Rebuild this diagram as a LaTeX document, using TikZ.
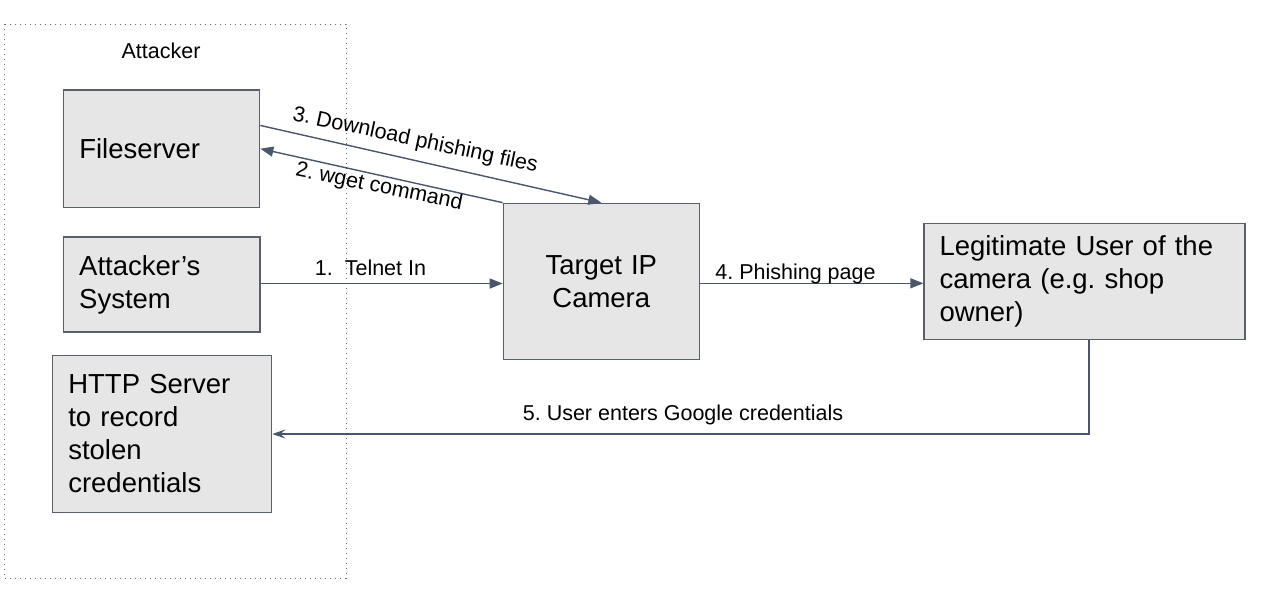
\documentclass[tikz,border=0pt]{standalone}
\usepackage{fontspec}
\setmainfont{Liberation Sans}
\usetikzlibrary{arrows.meta,calc}
\definecolor{boxfill}{RGB}{230,230,230}
\definecolor{boxline}{RGB}{90,96,106}
\definecolor{arrowc}{RGB}{73,86,107}
\definecolor{framec}{RGB}{110,110,110}
\frenchspacing
\begin{document}
\frenchspacing
\begin{tikzpicture}[x=1pt,y=-1pt,
  box/.style={draw=boxline, line width=1.3pt, fill=boxfill, rectangle,
    inner ysep=0pt, inner xsep=16pt, align=left,
    font=\fontsize{27.5}{33}\selectfont},
  cbox/.style={box, align=center},
  lbl/.style={font=\fontsize{21.5}{25}\selectfont, inner sep=0pt},
  arr/.style={draw=arrowc, line width=1.4pt, -{Triangle[length=13pt,width=10pt]}},
  arrb/.style={draw=arrowc, line width=1.4pt, -{Stealth[length=13pt,width=9pt,inset=5pt]}},
  framebox/.style={draw=framec, line width=1pt, dash pattern=on 1.2pt off 3.8pt}
]
\useasboundingbox (0,0) rectangle (1263,590);
\fill[white] (0,0) rectangle (1263,590);

\draw[framebox] (4,24) rectangle (346,578);
\node[lbl, anchor=base] (attlbl) at (161,58.3) {Attacker};

\node[box, text width=164.4pt, minimum height=117.3pt] (fs) at (161.5,148.7) {Fileserver};
\node[box, text width=164.8pt, minimum height=95pt] (as) at (161.6,284.5) {Attacker’s\\System};
\node[box, text width=187.4pt, minimum height=156.6pt] (http) at (162,434) {HTTP Server\\to record\\stolen\\credentials};
\node[cbox, text width=164pt, minimum height=156pt] (cam) at (601.3,281.3) {Target IP\\Camera};
\node[box, inner xsep=15.5pt, text width=290pt, minimum height=116pt] (leg) at (1084.5,281.3) {Legitimate User of the\\camera (e.g. shop\\owner)};

\coordinate (fsA) at ($(fs.north east)!0.304!(fs.south east)$);
\draw[arr] (fsA) -- (cam.north);
\draw[arr] (cam.north west) -- (fs.east);
\draw[arr] ([yshift=1pt]as.east) -- ([yshift=1pt]as.east -| cam.west);
\draw[arr] ([yshift=-2pt]cam.east) -- ([yshift=-2pt]leg.west);
\draw[arrb] ([xshift=4.5pt]leg.south) |- (http.east);

\node[lbl, anchor=base, rotate=-12] (l3) at (414,146) {3. Download phishing files};
\node[lbl, anchor=base, rotate=-11.5] (l2) at (378,192.7) {2. wget command};
\node[lbl, anchor=base] (l1) at (370.5,275) {1.\ \ Telnet In};
\node[lbl, anchor=base] (l4) at (795.5,279) {4. Phishing page};
\node[lbl, anchor=base] (l5) at (683,420) {5. User enters Google credentials};
\end{tikzpicture}
\end{document}
